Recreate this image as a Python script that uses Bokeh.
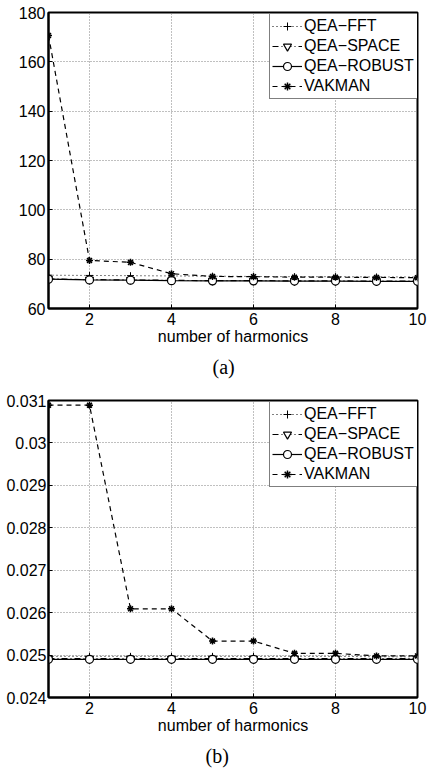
from bokeh.plotting import figure
from bokeh.models import (Range1d, FixedTicker, Legend, LegendItem, Title,
                          CustomJSTickFormatter)
from bokeh.layouts import column
from bokeh.embed import file_html
from bokeh.resources import INLINE

# ---------------- data ----------------
harmonics = [1, 2, 3, 4, 5, 6, 7, 8, 9, 10]
x_ticks = [2, 4, 6, 8, 10]

a_y_ticks = [60, 80, 100, 120, 140, 160, 180]
a_fft = [73.5, 73.4, 73.3, 73.2, 73.1, 73.0, 72.9, 72.9, 72.8, 72.8]
a_space = [72.0, 71.7, 71.6, 71.4, 71.3, 71.3, 71.2, 71.2, 71.1, 71.1]
a_robust = [71.9, 71.6, 71.5, 71.3, 71.2, 71.2, 71.1, 71.1, 71.0, 71.0]
a_vakman = [170.7, 79.5, 78.7, 74.1, 73.0, 72.9, 72.7, 72.7, 72.6, 72.5]

b_y_ticks = [0.024, 0.025, 0.026, 0.027, 0.028, 0.029, 0.030, 0.031]
b_fft = [0.02497, 0.02497, 0.02497, 0.02497, 0.02497, 0.02497, 0.02497, 0.02497, 0.02496, 0.02496]
b_space = [0.024915, 0.024915, 0.024915, 0.024915, 0.024915, 0.024915, 0.024915, 0.024915, 0.024915, 0.024915]
b_robust = [0.02490, 0.02490, 0.02490, 0.02490, 0.02490, 0.02490, 0.02490, 0.02490, 0.02490, 0.02490]
b_vakman = [0.03089, 0.03089, 0.02609, 0.02609, 0.02533, 0.02533, 0.02504, 0.02504, 0.02498, 0.02498]

series_names = ["QEA\u2212FFT", "QEA\u2212SPACE", "QEA\u2212ROBUST", "VAKMAN"]
x_label = "number of harmonics"

FONT = "Liberation Sans"


def style_axis(ax, standoff):
    ax.axis_line_color = "black"
    ax.axis_line_width = 2
    ax.major_tick_in = 4
    ax.major_tick_out = 0
    ax.major_tick_line_color = "black"
    ax.minor_tick_line_color = None
    ax.major_label_text_font = FONT
    ax.major_label_text_color = "black"
    ax.major_label_text_font_size = "16px"
    ax.major_label_standoff = standoff


def make_panel(fft, space, robust, vakman, y_lo, y_hi, y_ticks, caption,
               height, b_left, b_right, b_top, b_bottom, legend_xy,
               caption_offset, y_standoff, formatter=None):
    p = figure(width=429, height=height, output_backend="svg",
               toolbar_location=None,
               x_range=Range1d(1, 10), y_range=Range1d(y_lo, y_hi),
               min_border_left=b_left, min_border_right=b_right,
               min_border_top=b_top, min_border_bottom=b_bottom)
    p.background_fill_color = "white"
    p.border_fill_color = "white"
    p.outline_line_color = "black"
    p.outline_line_width = 2

    p.xaxis[0].ticker = FixedTicker(ticks=x_ticks)
    p.yaxis[0].ticker = FixedTicker(ticks=y_ticks)
    if formatter is not None:
        p.yaxis[0].formatter = formatter
    style_axis(p.xaxis[0], 4)
    style_axis(p.yaxis[0], y_standoff)
    p.xaxis[0].axis_label = x_label
    p.xaxis[0].axis_label_text_font = FONT
    p.xaxis[0].axis_label_text_font_size = "16px"
    p.xaxis[0].axis_label_text_font_style = "normal"
    p.xaxis[0].axis_label_text_color = "black"
    p.xaxis[0].axis_label_standoff = 0

    p.grid.grid_line_color = "#808080"
    p.grid.grid_line_dash = "1 2"
    p.grid.grid_line_width = 1

    r1l = p.line(harmonics, fft, line_color="black", line_width=1, line_dash="1 3")
    r1m = p.scatter(harmonics, fft, marker="cross", size=7,
                    line_color="black", line_width=1)
    r2l = p.line(harmonics, space, line_color="black", line_width=1.2,
                 line_dash="6 3 1 3")
    r2m = p.scatter(harmonics, space, marker="inverted_triangle", size=8,
                    fill_color="white", line_color="black", line_width=1.2)
    r3l = p.line(harmonics, robust, line_color="black", line_width=1.2)
    r3m = p.scatter(harmonics, robust, marker="circle", size=8,
                    fill_color="white", line_color="black", line_width=1.2)
    r4l = p.line(harmonics, vakman, line_color="black", line_width=1.2,
                 line_dash="5 4")
    r4m = p.scatter(harmonics, vakman, marker="asterisk", size=7,
                    line_color="black", line_width=1.5)

    items = [LegendItem(label=series_names[0], renderers=[r1l, r1m]),
             LegendItem(label=series_names[1], renderers=[r2l, r2m]),
             LegendItem(label=series_names[2], renderers=[r3l, r3m]),
             LegendItem(label=series_names[3], renderers=[r4l, r4m])]
    legend = Legend(items=items, location=legend_xy)
    legend.border_line_color = "black"
    legend.border_line_width = 1
    legend.background_fill_color = "white"
    legend.background_fill_alpha = 1
    legend.label_text_font = FONT
    legend.label_text_font_size = "16px"
    legend.label_text_color = "black"
    legend.glyph_width = 30
    legend.glyph_height = 20
    legend.label_height = 20
    legend.label_width = 114
    legend.label_standoff = 2
    legend.spacing = 0
    legend.padding = 2
    legend.margin = 0
    p.add_layout(legend)

    t = Title(text=caption, align="left", offset=caption_offset,
              text_font="Liberation Serif", text_font_size="20px",
              text_font_style="normal", text_color="black", standoff=12)
    p.add_layout(t, "below")
    return p


pa = make_panel(a_fft, a_space, a_robust, a_vakman, 60, 180, a_y_ticks, "(a)",
                height=390, b_left=41, b_right=12, b_top=12, b_bottom=82,
                legend_xy=(221, 209), caption_offset=164, y_standoff=3)

fmt = CustomJSTickFormatter(code="return (Math.round(tick*1000)/1000).toString();")
pb = make_panel(b_fft, b_space, b_robust, b_vakman, 0.024, 0.031, b_y_ticks, "(b)",
                height=384, b_left=48, b_right=6, b_top=10, b_bottom=77,
                legend_xy=(221, 210), caption_offset=157, y_standoff=2,
                formatter=fmt)

layout = column(pa, pb, spacing=0)
open("out.html", "w").write(file_html(layout, INLINE))
